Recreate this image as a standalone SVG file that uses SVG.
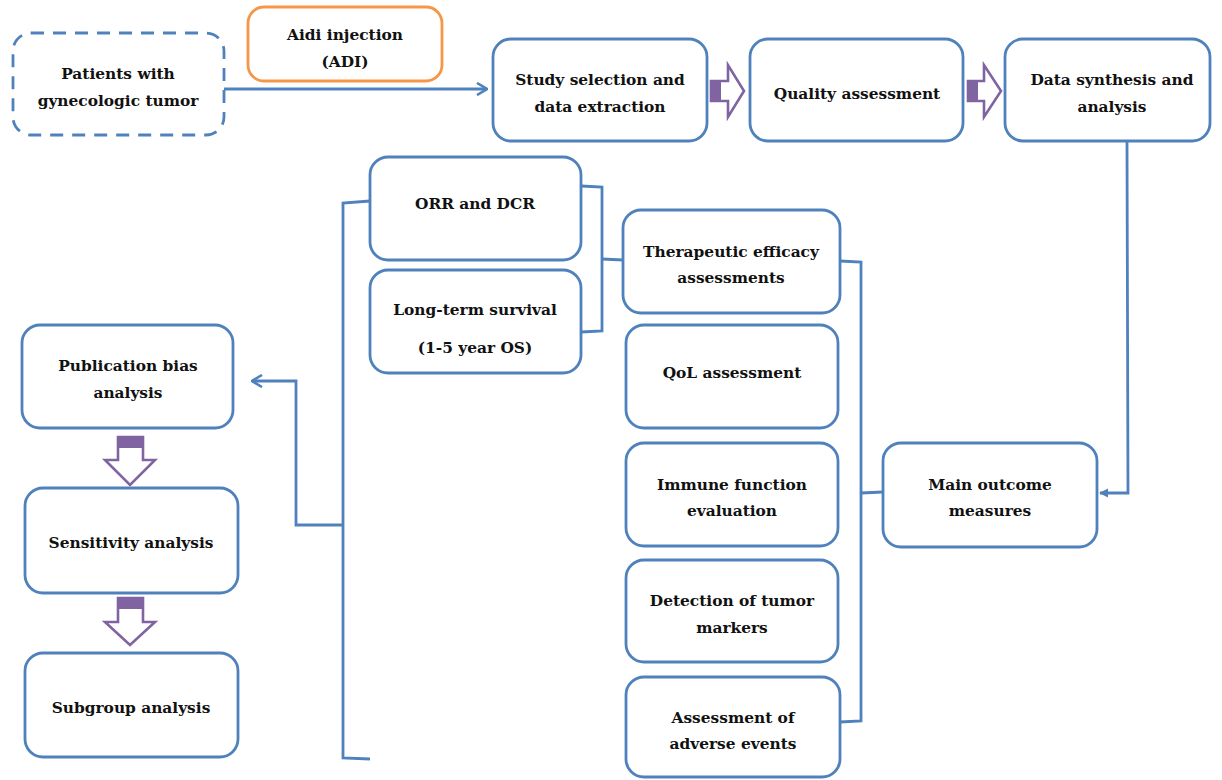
<svg xmlns="http://www.w3.org/2000/svg" width="1222" height="780" viewBox="0 0 1222 780">
<defs>
<style>
.box{fill:#fff;stroke:#4f81bd;stroke-width:2.8}
.dash{stroke-dasharray:13 9}
.orange{stroke:#f79646}
.t{font-family:"DejaVu Serif",serif;font-weight:bold;font-size:15.4px;fill:#111;text-anchor:middle}
.ln{fill:none;stroke:#4f81bd;stroke-width:2.8;stroke-linejoin:miter}
.blk{fill:#fff;stroke:#8064a2;stroke-width:2.6;stroke-linejoin:miter}
.stub{fill:#8064a2}
</style>
<marker id="chev" viewBox="0 0 12 14" refX="11" refY="7" markerWidth="12" markerHeight="14" markerUnits="userSpaceOnUse" orient="auto">
<path d="M1,1 L11,7 L1,13" fill="none" stroke="#4f81bd" stroke-width="2.6"/>
</marker>
<marker id="tri" viewBox="0 0 10 10" refX="9" refY="5" markerWidth="9" markerHeight="10" markerUnits="userSpaceOnUse" orient="auto">
<path d="M0,0 L10,5 L0,10 Z" fill="#4f81bd"/>
</marker>
</defs>
<rect width="1222" height="780" fill="#fff"/>

<g id="connectors">
<path class="ln" d="M224,89 L487,89" marker-end="url(#chev)"/>
<path class="ln" d="M1127,142 L1128,493 L1100,493" marker-end="url(#tri)"/>
<path class="ln" d="M883,492 L861,493"/>
<path class="ln" d="M840,261 L861,262 L861,721 L840,722"/>
<path class="ln" d="M581,186 L602,187 L602,331 L581,332"/>
<path class="ln" d="M602,259 L623,260"/>
<path class="ln" d="M370,201 L343,203 L343,758 L370,759"/>
<path class="ln" d="M343,525 L296,525 L296,381 L252,381" marker-end="url(#chev)"/>
<g id="block-arrows">
<polygon class="blk" points="711,81 728,81 728,65 744,91 728,117 728,101 711,101"/>
<rect class="stub" x="711" y="81" width="10" height="20"/>
<polygon class="blk" points="968,81 984,81 984,65 1001,91 984,117 984,101 968,101"/>
<rect class="stub" x="968" y="81" width="10" height="20"/>
<polygon class="blk" points="118,437 143,437 143,460 155,460 130,485 105,460 118,460"/>
<rect class="stub" x="118" y="437" width="25" height="11"/>
<polygon class="blk" points="118,598 143,598 143,622 155,622 130,645 105,622 118,622"/>
<rect class="stub" x="118" y="598" width="25" height="11"/>
</g>
</g>

<g id="patients"><rect class="box dash" x="13" y="33" width="211" height="102" rx="18"/>
<text class="t" x="118" y="79">Patients with</text><text class="t" x="118" y="106">gynecologic tumor</text></g>

<g id="aidi"><rect class="box orange" x="248" y="7" width="194" height="74" rx="16"/>
<text class="t" x="345" y="40">Aidi injection</text><text class="t" x="345" y="67">(ADI)</text></g>

<g id="study"><rect class="box" x="493" y="39" width="214" height="102" rx="18"/>
<text class="t" x="600" y="85">Study selection and</text><text class="t" x="600" y="112">data extraction</text></g>

<g id="quality"><rect class="box" x="750" y="39" width="213" height="102" rx="18"/>
<text class="t" x="857" y="99">Quality assessment</text></g>

<g id="synthesis"><rect class="box" x="1005" y="39" width="205" height="102" rx="18"/>
<text class="t" x="1112" y="85">Data synthesis and</text><text class="t" x="1112" y="112">analysis</text></g>

<g id="orr"><rect class="box" x="370" y="157" width="211" height="103" rx="18"/>
<text class="t" x="475" y="209">ORR and DCR</text></g>

<g id="longterm"><rect class="box" x="370" y="270" width="211" height="103" rx="18"/>
<text class="t" x="475" y="315">Long-term survival</text><text class="t" x="475" y="353">(1-5 year OS)</text></g>

<g id="therapeutic"><rect class="box" x="623" y="210" width="217" height="103" rx="18"/>
<text class="t" x="731" y="257">Therapeutic efficacy</text><text class="t" x="731" y="283">assessments</text></g>

<g id="qol"><rect class="box" x="626" y="325" width="212" height="103" rx="18"/>
<text class="t" x="732" y="378">QoL assessment</text></g>

<g id="immune"><rect class="box" x="626" y="443" width="212" height="103" rx="18"/>
<text class="t" x="732" y="490">Immune function</text><text class="t" x="732" y="516">evaluation</text></g>

<g id="detection"><rect class="box" x="626" y="560" width="212" height="102" rx="18"/>
<text class="t" x="732" y="606">Detection of tumor</text><text class="t" x="732" y="633">markers</text></g>

<g id="adverse"><rect class="box" x="626" y="677" width="214" height="100" rx="18"/>
<text class="t" x="733" y="723">Assessment of</text><text class="t" x="733" y="749">adverse events</text></g>

<g id="main"><rect class="box" x="883" y="443" width="214" height="104" rx="18"/>
<text class="t" x="990" y="490">Main outcome</text><text class="t" x="990" y="516">measures</text></g>

<g id="pubbias"><rect class="box" x="22" y="325" width="211" height="103" rx="18"/>
<text class="t" x="128" y="371">Publication bias</text><text class="t" x="128" y="398">analysis</text></g>

<g id="sensitivity"><rect class="box" x="25" y="488" width="213" height="105" rx="18"/>
<text class="t" x="131" y="548">Sensitivity analysis</text></g>

<g id="subgroup"><rect class="box" x="25" y="653" width="213" height="104" rx="18"/>
<text class="t" x="131" y="713">Subgroup analysis</text></g>
</svg>
